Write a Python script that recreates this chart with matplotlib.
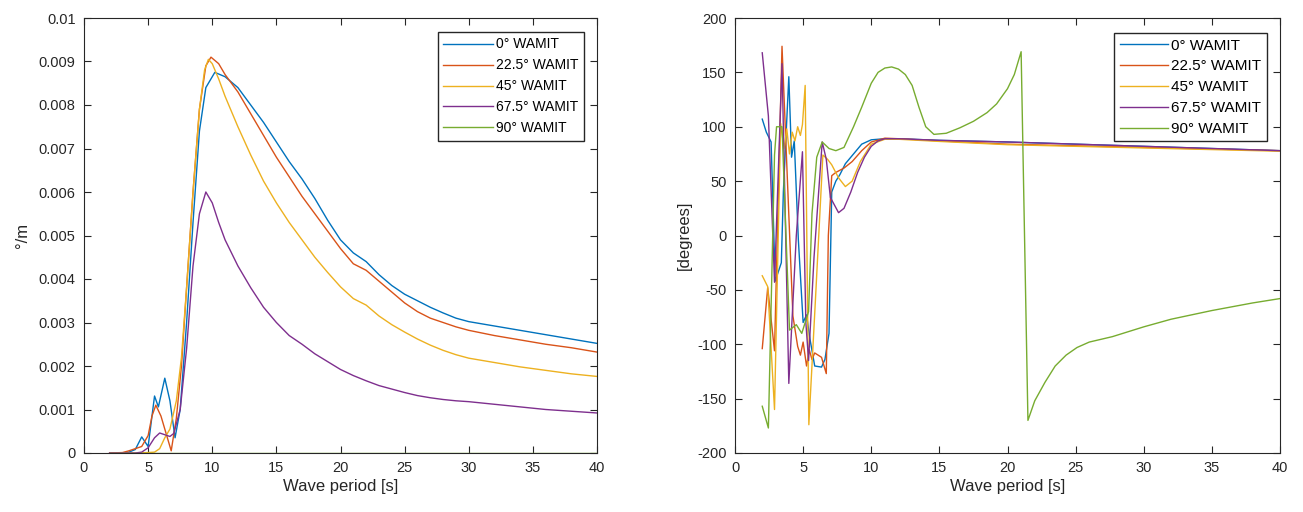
import numpy as np
import matplotlib.pyplot as plt

plt.rcParams['font.family'] = ['Liberation Sans', 'DejaVu Sans']
plt.rcParams['axes.unicode_minus'] = False

labels = ['0° WAMIT', '22.5° WAMIT', '45° WAMIT', '67.5° WAMIT', '90° WAMIT']
colors = ['#0072BD', '#D95319', '#EDB120', '#7E2F8E', '#77AC30']

# ---- amplitude (°/m), values in 1e-3
t_amp_0 = [2, 3, 3.5, 4, 4.5, 5.0, 5.5, 5.8, 6.3, 6.7, 7.1, 7.5, 8.0, 8.5, 9.0, 9.5, 10.2, 11, 12, 13, 14, 15,
           16, 17, 18, 19, 20, 21, 22, 23, 24, 25, 26, 27, 28, 29, 30, 32, 34, 36, 38, 40]
amp_0 = [0, 0, 0.02, 0.08, 0.37, 0.15, 1.31, 1.06, 1.72, 1.2, 0.35, 1.0, 3.0, 5.3, 7.4, 8.4, 8.75, 8.65, 8.4, 8.0, 7.6, 7.15,
         6.7, 6.3, 5.85, 5.35, 4.9, 4.6, 4.4, 4.1, 3.85, 3.65, 3.5, 3.35, 3.22, 3.1, 3.02, 2.92, 2.82, 2.72, 2.62, 2.52]

t_amp_22 = [2, 3, 3.5, 4, 4.5, 5.0, 5.3, 5.6, 6.0, 6.4, 6.8, 7.2, 7.6, 8.0, 8.5, 9.0, 9.5, 9.9, 10.5, 11, 12, 13, 14, 15,
            16, 17, 18, 19, 20, 21, 22, 23, 24, 25, 26, 27, 28, 29, 30, 32, 34, 36, 38, 40]
amp_22 = [0, 0.01, 0.05, 0.1, 0.15, 0.4, 0.85, 1.1, 0.85, 0.45, 0.05, 0.8, 2.0, 3.8, 6.0, 7.9, 8.9, 9.1, 8.95, 8.7, 8.3, 7.8, 7.3, 6.8,
          6.35, 5.9, 5.5, 5.1, 4.7, 4.35, 4.2, 3.95, 3.7, 3.45, 3.25, 3.1, 3.0, 2.9, 2.82, 2.7, 2.6, 2.5, 2.42, 2.32]

t_amp_45 = [2, 4, 5.0, 5.5, 5.9, 6.3, 6.7, 7.2, 7.6, 8.0, 8.5, 9.0, 9.4, 9.7, 10.0, 10.5, 11, 12, 13, 14, 15, 16, 17,
            18, 19, 20, 21, 22, 23, 24, 25, 26, 27, 28, 29, 30, 32, 34, 36, 38, 40]
amp_45 = [0, 0, 0.01, 0.02, 0.1, 0.35, 0.55, 1.2, 2.2, 3.8, 6.0, 7.9, 8.8, 9.05, 8.95, 8.6, 8.2, 7.5, 6.85, 6.25, 5.75, 5.3, 4.9,
          4.5, 4.15, 3.82, 3.55, 3.4, 3.15, 2.95, 2.78, 2.62, 2.48, 2.36, 2.26, 2.18, 2.08, 1.98, 1.9, 1.82, 1.76]

t_amp_67 = [2, 4, 4.5, 5.0, 5.5, 5.9, 6.3, 6.7, 7.0, 7.5, 8.0, 8.5, 9.0, 9.5, 10, 10.5, 11, 12, 13, 14, 15, 16, 17,
            18, 19, 20, 21, 22, 23, 24, 25, 26, 27, 28, 29, 30, 32, 34, 36, 38, 40]
amp_67 = [0, 0, 0.02, 0.12, 0.35, 0.46, 0.42, 0.38, 0.45, 1.0, 2.4, 4.3, 5.5, 6.0, 5.75, 5.3, 4.9, 4.3, 3.8, 3.35, 3.0, 2.7, 2.5,
          2.28, 2.1, 1.92, 1.78, 1.66, 1.55, 1.47, 1.39, 1.32, 1.27, 1.23, 1.2, 1.18, 1.12, 1.06, 1.0, 0.96, 0.92]

t_amp_90 = [2, 5, 10, 15, 20, 25, 30, 35, 40]
amp_90 = [0, 0, 0, 0, 0, 0, 0, 0, 0]

# ---- phase (degrees)
t_ph_0 = [2.0, 2.3, 2.65, 2.95, 3.4, 3.55, 3.95, 4.15, 4.35, 4.65, 5.0, 5.25, 5.5, 5.85, 6.35, 6.6, 6.9, 7.1, 7.4, 7.7,
          8.1, 8.7, 9.3, 10, 11, 12, 15, 20, 25, 30, 35, 40]
ph_0 = [107, 95, 86, -42, -25, 40, 146, 72, 87, -4, -80, -73, -95, -120, -121, -114, -90, 40, 50, 56,
        66, 75, 84, 88, 89, 89, 87.5, 86, 84, 82, 80, 78]

t_ph_22 = [2.0, 2.4, 2.9, 3.45, 4.25, 4.6, 4.8, 5.0, 5.25, 5.45, 5.65, 5.85, 6.35, 6.7, 6.85, 7.1, 7.4, 8.0, 8.6, 9.3,
           10, 11, 12, 15, 20, 25, 30, 35, 40]
ph_22 = [-104, -48, -106, 174, -74, -102, -110, -98, -120, -105, -114, -108, -112, -127, 0, 55, 58, 62, 68, 78,
         86, 89.5, 89, 87, 84, 82.5, 81, 79.5, 78]

t_ph_45 = [2.0, 2.4, 2.9, 3.35, 3.6, 3.8, 4.0, 4.2, 4.4, 4.6, 4.8, 4.95, 5.15, 5.42, 5.9, 6.45, 6.8, 7.1, 7.6, 8.1,
           8.6, 9.2, 10, 11, 12, 15, 20, 25, 30, 35, 40]
ph_45 = [-37, -47, -160, 103, 80, 98, 75, 95, 87, 100, 92, 102, 138, -174, -60, 74, 70, 65, 53, 45,
         50, 68, 84, 88.5, 88.5, 86.5, 83.5, 82, 80.5, 79, 77.5]

t_ph_67 = [2.0, 2.45, 2.9, 3.45, 3.95, 4.5, 4.95, 5.2, 5.4, 5.8, 6.4, 6.7, 7.0, 7.6, 8.0, 8.5, 9.0, 9.5, 10, 10.5,
           11, 12, 15, 20, 25, 30, 35, 40]
ph_67 = [168, 110, -43, 158, -136, 0, 77, -80, -115, -20, 86, 70, 35, 21, 25, 40, 58, 72, 82, 87,
         89, 89, 87.5, 86, 84, 82, 80, 78]

t_ph_90 = [2.0, 2.45, 2.9, 3.05, 3.45, 4.0, 4.5, 4.9, 5.4, 5.65, 6.0, 6.4, 6.9, 7.4, 8.0, 8.7, 9.3, 10, 10.5, 11,
           11.5, 12, 12.5, 13, 13.5, 14, 14.6, 15.5, 16.5, 17.5, 18.5, 19.2, 20, 20.5, 21.0, 21.5, 22, 22.75, 23.5,
           24.3, 25.1, 26, 27.7, 30, 32, 35, 38, 40]
ph_90 = [-157, -177, 74, 100, 100, -87, -82, -90, -70, 20, 72, 86, 80, 78, 81, 100, 118, 140, 150, 154,
         155, 153, 148, 138, 118, 100, 93, 94, 99, 105, 113, 121, 135, 148, 169, -170, -152, -135, -120,
         -110, -103, -98, -93, -84, -77, -69, -62, -58]

amp_t = [t_amp_0, t_amp_22, t_amp_45, t_amp_67, t_amp_90]
amp_v = [amp_0, amp_22, amp_45, amp_67, amp_90]
ph_t = [t_ph_0, t_ph_22, t_ph_45, t_ph_67, t_ph_90]
ph_v = [ph_0, ph_22, ph_45, ph_67, ph_90]

fig = plt.figure(figsize=(13.03, 5.12), dpi=100)
ax1 = fig.add_axes([84 / 1303, 59 / 512, 513 / 1303, 435 / 512])
ax2 = fig.add_axes([735 / 1303, 59 / 512, 545 / 1303, 435 / 512])

dark = '#262626'
for ax in (ax1, ax2):
    for s in ax.spines.values():
        s.set_color(dark)
        s.set_linewidth(0.8)
    ax.tick_params(direction='in', length=5, width=0.8, top=True, right=True,
                   colors=dark, labelsize=10.5, pad=6)
    ax.set_xlim(0, 40)
    ax.set_xticks(np.arange(0, 41, 5))
    ax.set_xlabel('Wave period [s]', fontsize=12, color=dark, labelpad=3)

for t, v, c, lab in zip(amp_t, amp_v, colors, labels):
    ax1.plot(t, np.array(v) * 1e-3, color=c, lw=1.0, label=lab)
ax1.set_ylim(0, 0.01)
yt = np.arange(0, 11) * 0.001
ax1.set_yticks(yt)
ax1.set_yticklabels(['%g' % round(y, 3) for y in yt])
ax1.set_ylabel('°/m', fontsize=12, color=dark, labelpad=6)
ax1.legend(loc='upper right', bbox_to_anchor=(0.975, 0.968), fontsize=10, handlelength=3.6,
           fancybox=False, edgecolor=dark, framealpha=1, borderpad=0.4, labelspacing=0.5,
           handletextpad=0.2, borderaxespad=0)

for t, v, c, lab in zip(ph_t, ph_v, colors, labels):
    ax2.plot(t, v, color=c, lw=1.0, label=lab)
ax2.set_ylim(-200, 200)
ax2.set_yticks(np.arange(-200, 201, 50))
ax2.set_ylabel('[degrees]', fontsize=12, color=dark, labelpad=4)
ax2.legend(loc='upper right', bbox_to_anchor=(0.976, 0.965), fontsize=11, handlelength=3.2,
           fancybox=False, edgecolor=dark, framealpha=1, borderpad=0.35, labelspacing=0.45,
           handletextpad=0.2, borderaxespad=0)

fig.savefig('out.png', dpi=100)
